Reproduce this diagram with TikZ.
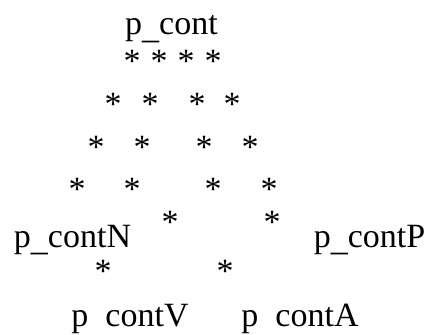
\documentclass[tikz,border=0pt]{standalone}
\usepackage{fontspec}
\setmainfont{Liberation Serif}
% underscore set a little lower, as in the printed labels
\newcommand\lowbar{\raisebox{-3.5pt}{\_}}
\begin{document}
\begin{tikzpicture}[x=1pt,y=-1pt,
  lbl/.style={font=\fontsize{34}{40}\selectfont, inner sep=0pt, anchor=base},
  star/.style={font=\fontsize{34}{40}\selectfont, inner sep=0pt, anchor=base}]
\useasboundingbox (0,0) rectangle (430,334);
% labels
\node[lbl] (top) at (171.5,35) {p\lowbar cont};
\node[lbl] (n) at (72.5,247) {p\lowbar contN};
\node[lbl] (p) at (369.5,247) {p\lowbar contP};
\node[lbl] (v) at (130,326) {p\hspace{0.5em}contV};
\node[lbl] (a) at (300,326) {p\hspace{0.5em}contA};
% asterisk rows (x positions, row baseline y)
\foreach \x [count=\i] in {132,159,186,213} \node[star] (r1s\i) at (\x,73) {*};
\foreach \x [count=\i] in {113,150,197,232} \node[star] (r2s\i) at (\x,115) {*};
\foreach \x [count=\i] in {96,142,204,250} \node[star] (r3s\i) at (\x,158) {*};
\foreach \x [count=\i] in {77,132,213,269} \node[star] (r4s\i) at (\x,200) {*};
\foreach \x [count=\i] in {170,272} \node[star] (r5s\i) at (\x,233) {*};
\foreach \x [count=\i] in {103,225} \node[star] (r6s\i) at (\x,282) {*};
\end{tikzpicture}
\end{document}
